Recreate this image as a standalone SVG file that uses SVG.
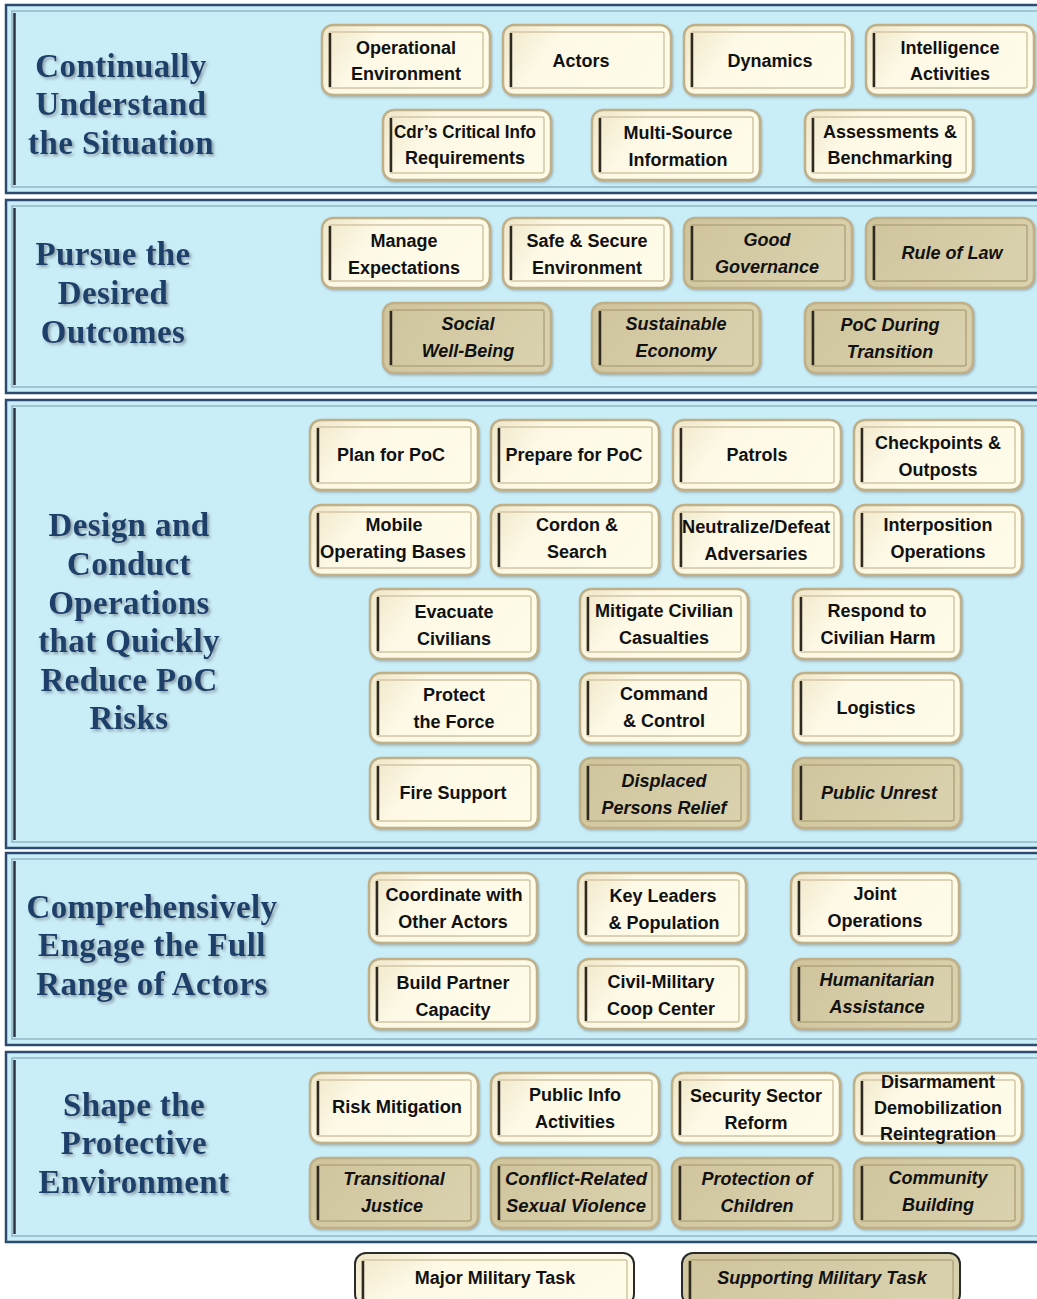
<svg xmlns="http://www.w3.org/2000/svg" width="1037" height="1299" viewBox="0 0 1037 1299">
<defs>
<linearGradient id="cream" x1="0" y1="0" x2="1" y2="0.3">
<stop offset="0" stop-color="#efe6c8"/><stop offset="0.35" stop-color="#fdf9e6"/><stop offset="1" stop-color="#fffbe9"/>
</linearGradient>
<linearGradient id="tan" x1="0" y1="0" x2="1" y2="0.3">
<stop offset="0" stop-color="#cfc49c"/><stop offset="1" stop-color="#d9d0ad"/>
</linearGradient>
<filter id="sh" x="-10%" y="-20%" width="120%" height="140%">
<feDropShadow dx="2" dy="2" stdDeviation="1.5" flood-color="#7a8a96" flood-opacity="0.8"/>
</filter>
<filter id="bs" x="-10%" y="-10%" width="120%" height="130%">
<feDropShadow dx="1" dy="1.5" stdDeviation="1" flood-color="#6f7a80" flood-opacity="0.5"/>
</filter>
</defs>
<style>
.sec{fill:#c9eef8;stroke:#2d4b70;stroke-width:2.5}
.secin{fill:none;stroke:#93b6c8;stroke-width:1.5}
.secl{stroke:#2b3340;stroke-width:2.5}
.hd{font-family:"Liberation Serif","DejaVu Serif",serif;font-weight:bold;font-size:33px;letter-spacing:0.4px;fill:#1f3f6a;text-anchor:middle;filter:url(#sh)}
.bo{stroke:#bfb088;stroke-width:2.5;filter:url(#bs)}
.lg{stroke:#2a2a2a;stroke-width:2}
.c{fill:url(#cream)}
.t{fill:url(#tan)}
.bi{fill:none;stroke:#d2c6a4;stroke-width:1.5}
.bit{fill:none;stroke:#b3a57c;stroke-width:1.5}
.bl{stroke:#2e2a22;stroke-width:2.5}
.tx{font-family:"Liberation Sans","Arial",sans-serif;font-weight:bold;font-size:18px;fill:#111;text-anchor:middle}
.it{font-style:italic}
</style>

<g id="sections">
<rect class="sec" x="6" y="5" width="1040" height="188"/><rect class="secin" x="12" y="11" width="1030" height="176"/><line class="secl" x1="14.5" y1="13" x2="14.5" y2="185"/>
<rect class="sec" x="6" y="200" width="1040" height="193"/><rect class="secin" x="12" y="206" width="1030" height="181"/><line class="secl" x1="14.5" y1="208" x2="14.5" y2="385"/>
<rect class="sec" x="6" y="400" width="1040" height="448"/><rect class="secin" x="12" y="406" width="1030" height="436"/><line class="secl" x1="14.5" y1="408" x2="14.5" y2="840"/>
<rect class="sec" x="6" y="853" width="1040" height="192"/><rect class="secin" x="12" y="859" width="1030" height="180"/><line class="secl" x1="14.5" y1="861" x2="14.5" y2="1037"/>
<rect class="sec" x="6" y="1052" width="1040" height="190"/><rect class="secin" x="12" y="1058" width="1030" height="178"/><line class="secl" x1="14.5" y1="1060" x2="14.5" y2="1234"/>
</g>

<g id="headings">
<text class="hd"><tspan x="121" y="77">Continually</tspan><tspan x="121" y="115">Understand</tspan><tspan x="121" y="154">the Situation</tspan></text>
<text class="hd"><tspan x="113" y="265">Pursue the</tspan><tspan x="113" y="304">Desired</tspan><tspan x="113" y="343">Outcomes</tspan></text>
<text class="hd"><tspan x="129" y="536">Design and</tspan><tspan x="129" y="575">Conduct</tspan><tspan x="129" y="614">Operations</tspan><tspan x="129" y="652">that Quickly</tspan><tspan x="129" y="691">Reduce PoC</tspan><tspan x="129" y="729">Risks</tspan></text>
<text class="hd"><tspan x="152" y="918">Comprehensively</tspan><tspan x="152" y="956">Engage the Full</tspan><tspan x="152" y="995">Range of Actors</tspan></text>
<text class="hd"><tspan x="134" y="1116">Shape the</tspan><tspan x="134" y="1154">Protective</tspan><tspan x="134" y="1193">Environment</tspan></text>
</g>

<g id="connectors"/>

<!-- Section 1 -->
<g id="n-openv"><rect class="bo c" x="322" y="25" width="168" height="70" rx="11"/><rect class="bi" x="329" y="32" width="154" height="56" rx="2"/><line class="bl" x1="330" y1="33" x2="330" y2="87"/><text class="tx"><tspan x="406" y="54">Operational</tspan><tspan x="406" y="80">Environment</tspan></text></g>
<g id="n-actors"><rect class="bo c" x="503" y="25" width="168" height="70" rx="11"/><rect class="bi" x="510" y="32" width="154" height="56" rx="2"/><line class="bl" x1="511" y1="33" x2="511" y2="87"/><text class="tx" x="581" y="67">Actors</text></g>
<g id="n-dynamics"><rect class="bo c" x="684" y="25" width="168" height="70" rx="11"/><rect class="bi" x="691" y="32" width="154" height="56" rx="2"/><line class="bl" x1="692" y1="33" x2="692" y2="87"/><text class="tx" x="770" y="67">Dynamics</text></g>
<g id="n-intel"><rect class="bo c" x="866" y="25" width="168" height="70" rx="11"/><rect class="bi" x="873" y="32" width="154" height="56" rx="2"/><line class="bl" x1="874" y1="33" x2="874" y2="87"/><text class="tx"><tspan x="950" y="54">Intelligence</tspan><tspan x="950" y="80">Activities</tspan></text></g>
<g id="n-ccir"><rect class="bo c" x="383" y="110" width="168" height="70" rx="11"/><rect class="bi" x="390" y="117" width="154" height="56" rx="2"/><line class="bl" x1="391" y1="118" x2="391" y2="172"/><text class="tx"><tspan x="465" y="138" textLength="142" lengthAdjust="spacingAndGlyphs">Cdr’s Critical Info</tspan><tspan x="465" y="164">Requirements</tspan></text></g>
<g id="n-msi"><rect class="bo c" x="592" y="110" width="168" height="70" rx="11"/><rect class="bi" x="599" y="117" width="154" height="56" rx="2"/><line class="bl" x1="600" y1="118" x2="600" y2="172"/><text class="tx"><tspan x="678" y="139">Multi-Source</tspan><tspan x="678" y="166">Information</tspan></text></g>
<g id="n-assess"><rect class="bo c" x="805" y="110" width="168" height="70" rx="11"/><rect class="bi" x="812" y="117" width="154" height="56" rx="2"/><line class="bl" x1="813" y1="118" x2="813" y2="172"/><text class="tx"><tspan x="890" y="138">Assessments &amp;</tspan><tspan x="890" y="164">Benchmarking</tspan></text></g>

<!-- Section 2 -->
<g id="n-manage"><rect class="bo c" x="322" y="218" width="168" height="70" rx="11"/><rect class="bi" x="329" y="225" width="154" height="56" rx="2"/><line class="bl" x1="330" y1="226" x2="330" y2="280"/><text class="tx"><tspan x="404" y="247">Manage</tspan><tspan x="404" y="274">Expectations</tspan></text></g>
<g id="n-safe"><rect class="bo c" x="503" y="218" width="168" height="70" rx="11"/><rect class="bi" x="510" y="225" width="154" height="56" rx="2"/><line class="bl" x1="511" y1="226" x2="511" y2="280"/><text class="tx"><tspan x="587" y="247">Safe &amp; Secure</tspan><tspan x="587" y="274">Environment</tspan></text></g>
<g id="n-gov"><rect class="bo t" x="684" y="218" width="168" height="70" rx="11"/><rect class="bit" x="691" y="225" width="154" height="56" rx="2"/><line class="bl" x1="692" y1="226" x2="692" y2="280"/><text class="tx it"><tspan x="767" y="246">Good</tspan><tspan x="767" y="273">Governance</tspan></text></g>
<g id="n-law"><rect class="bo t" x="866" y="218" width="168" height="70" rx="11"/><rect class="bit" x="873" y="225" width="154" height="56" rx="2"/><line class="bl" x1="874" y1="226" x2="874" y2="280"/><text class="tx it" x="952" y="259">Rule of Law</text></g>
<g id="n-social"><rect class="bo t" x="383" y="303" width="168" height="70" rx="11"/><rect class="bit" x="390" y="310" width="154" height="56" rx="2"/><line class="bl" x1="391" y1="311" x2="391" y2="365"/><text class="tx it"><tspan x="468" y="330">Social</tspan><tspan x="468" y="357">Well-Being</tspan></text></g>
<g id="n-econ"><rect class="bo t" x="592" y="303" width="168" height="70" rx="11"/><rect class="bit" x="599" y="310" width="154" height="56" rx="2"/><line class="bl" x1="600" y1="311" x2="600" y2="365"/><text class="tx it"><tspan x="676" y="330">Sustainable</tspan><tspan x="676" y="357">Economy</tspan></text></g>
<g id="n-trans"><rect class="bo t" x="805" y="303" width="168" height="70" rx="11"/><rect class="bit" x="812" y="310" width="154" height="56" rx="2"/><line class="bl" x1="813" y1="311" x2="813" y2="365"/><text class="tx it"><tspan x="890" y="331">PoC During</tspan><tspan x="890" y="358">Transition</tspan></text></g>

<!-- Section 3 -->
<g id="n-plan"><rect class="bo c" x="310" y="420" width="168" height="70" rx="11"/><rect class="bi" x="317" y="427" width="154" height="56" rx="2"/><line class="bl" x1="318" y1="428" x2="318" y2="482"/><text class="tx" x="391" y="461">Plan for PoC</text></g>
<g id="n-prepare"><rect class="bo c" x="491" y="420" width="168" height="70" rx="11"/><rect class="bi" x="498" y="427" width="154" height="56" rx="2"/><line class="bl" x1="499" y1="428" x2="499" y2="482"/><text class="tx" x="574" y="461">Prepare for PoC</text></g>
<g id="n-patrols"><rect class="bo c" x="673" y="420" width="168" height="70" rx="11"/><rect class="bi" x="680" y="427" width="154" height="56" rx="2"/><line class="bl" x1="681" y1="428" x2="681" y2="482"/><text class="tx" x="757" y="461">Patrols</text></g>
<g id="n-check"><rect class="bo c" x="854" y="420" width="168" height="70" rx="11"/><rect class="bi" x="861" y="427" width="154" height="56" rx="2"/><line class="bl" x1="862" y1="428" x2="862" y2="482"/><text class="tx"><tspan x="938" y="449">Checkpoints &amp;</tspan><tspan x="938" y="476">Outposts</tspan></text></g>
<g id="n-mobile"><rect class="bo c" x="310" y="505" width="168" height="70" rx="11"/><rect class="bi" x="317" y="512" width="154" height="56" rx="2"/><line class="bl" x1="318" y1="513" x2="318" y2="567"/><text class="tx"><tspan x="394" y="531">Mobile</tspan><tspan x="393" y="558" textLength="146" lengthAdjust="spacingAndGlyphs">Operating Bases</tspan></text></g>
<g id="n-cordon"><rect class="bo c" x="491" y="505" width="168" height="70" rx="11"/><rect class="bi" x="498" y="512" width="154" height="56" rx="2"/><line class="bl" x1="499" y1="513" x2="499" y2="567"/><text class="tx"><tspan x="577" y="531">Cordon &amp;</tspan><tspan x="577" y="558">Search</tspan></text></g>
<g id="n-neut"><rect class="bo c" x="673" y="505" width="168" height="70" rx="11"/><rect class="bi" x="680" y="512" width="154" height="56" rx="2"/><line class="bl" x1="681" y1="513" x2="681" y2="567"/><text class="tx"><tspan x="756" y="533" textLength="148" lengthAdjust="spacingAndGlyphs">Neutralize/Defeat</tspan><tspan x="756" y="560">Adversaries</tspan></text></g>
<g id="n-interp"><rect class="bo c" x="854" y="505" width="168" height="70" rx="11"/><rect class="bi" x="861" y="512" width="154" height="56" rx="2"/><line class="bl" x1="862" y1="513" x2="862" y2="567"/><text class="tx"><tspan x="938" y="531">Interposition</tspan><tspan x="938" y="558">Operations</tspan></text></g>
<g id="n-evac"><rect class="bo c" x="370" y="589" width="168" height="70" rx="11"/><rect class="bi" x="377" y="596" width="154" height="56" rx="2"/><line class="bl" x1="378" y1="597" x2="378" y2="651"/><text class="tx"><tspan x="454" y="618">Evacuate</tspan><tspan x="454" y="645">Civilians</tspan></text></g>
<g id="n-mitig"><rect class="bo c" x="580" y="589" width="168" height="70" rx="11"/><rect class="bi" x="587" y="596" width="154" height="56" rx="2"/><line class="bl" x1="588" y1="597" x2="588" y2="651"/><text class="tx"><tspan x="664" y="617" textLength="138" lengthAdjust="spacingAndGlyphs">Mitigate Civilian</tspan><tspan x="664" y="644">Casualties</tspan></text></g>
<g id="n-respond"><rect class="bo c" x="793" y="589" width="168" height="70" rx="11"/><rect class="bi" x="800" y="596" width="154" height="56" rx="2"/><line class="bl" x1="801" y1="597" x2="801" y2="651"/><text class="tx"><tspan x="877" y="617">Respond to</tspan><tspan x="878" y="644">Civilian Harm</tspan></text></g>
<g id="n-protect"><rect class="bo c" x="370" y="673" width="168" height="70" rx="11"/><rect class="bi" x="377" y="680" width="154" height="56" rx="2"/><line class="bl" x1="378" y1="681" x2="378" y2="735"/><text class="tx"><tspan x="454" y="701">Protect</tspan><tspan x="454" y="728">the Force</tspan></text></g>
<g id="n-c2"><rect class="bo c" x="580" y="673" width="168" height="70" rx="11"/><rect class="bi" x="587" y="680" width="154" height="56" rx="2"/><line class="bl" x1="588" y1="681" x2="588" y2="735"/><text class="tx"><tspan x="664" y="700">Command</tspan><tspan x="664" y="727">&amp; Control</tspan></text></g>
<g id="n-log"><rect class="bo c" x="793" y="673" width="168" height="70" rx="11"/><rect class="bi" x="800" y="680" width="154" height="56" rx="2"/><line class="bl" x1="801" y1="681" x2="801" y2="735"/><text class="tx" x="876" y="714">Logistics</text></g>
<g id="n-fire"><rect class="bo c" x="370" y="758" width="168" height="70" rx="11"/><rect class="bi" x="377" y="765" width="154" height="56" rx="2"/><line class="bl" x1="378" y1="766" x2="378" y2="820"/><text class="tx" x="453" y="799">Fire Support</text></g>
<g id="n-displ"><rect class="bo t" x="580" y="758" width="168" height="70" rx="11"/><rect class="bit" x="587" y="765" width="154" height="56" rx="2"/><line class="bl" x1="588" y1="766" x2="588" y2="820"/><text class="tx it"><tspan x="664" y="787">Displaced</tspan><tspan x="664" y="814">Persons Relief</tspan></text></g>
<g id="n-unrest"><rect class="bo t" x="793" y="758" width="168" height="70" rx="11"/><rect class="bit" x="800" y="765" width="154" height="56" rx="2"/><line class="bl" x1="801" y1="766" x2="801" y2="820"/><text class="tx it" x="879" y="799">Public Unrest</text></g>

<!-- Section 4 -->
<g id="n-coord"><rect class="bo c" x="369" y="873" width="168" height="70" rx="11"/><rect class="bi" x="376" y="880" width="154" height="56" rx="2"/><line class="bl" x1="377" y1="881" x2="377" y2="935"/><text class="tx"><tspan x="454" y="901" textLength="137" lengthAdjust="spacingAndGlyphs">Coordinate with</tspan><tspan x="453" y="928">Other Actors</tspan></text></g>
<g id="n-key"><rect class="bo c" x="578" y="873" width="168" height="70" rx="11"/><rect class="bi" x="585" y="880" width="154" height="56" rx="2"/><line class="bl" x1="586" y1="881" x2="586" y2="935"/><text class="tx"><tspan x="663" y="902">Key Leaders</tspan><tspan x="664" y="929">&amp; Population</tspan></text></g>
<g id="n-joint"><rect class="bo c" x="791" y="873" width="168" height="70" rx="11"/><rect class="bi" x="798" y="880" width="154" height="56" rx="2"/><line class="bl" x1="799" y1="881" x2="799" y2="935"/><text class="tx"><tspan x="875" y="900">Joint</tspan><tspan x="875" y="927">Operations</tspan></text></g>
<g id="n-build"><rect class="bo c" x="369" y="959" width="168" height="70" rx="11"/><rect class="bi" x="376" y="966" width="154" height="56" rx="2"/><line class="bl" x1="377" y1="967" x2="377" y2="1021"/><text class="tx"><tspan x="453" y="989">Build Partner</tspan><tspan x="453" y="1016">Capacity</tspan></text></g>
<g id="n-cmcc"><rect class="bo c" x="578" y="959" width="168" height="70" rx="11"/><rect class="bi" x="585" y="966" width="154" height="56" rx="2"/><line class="bl" x1="586" y1="967" x2="586" y2="1021"/><text class="tx"><tspan x="661" y="988">Civil-Military</tspan><tspan x="661" y="1015">Coop Center</tspan></text></g>
<g id="n-human"><rect class="bo t" x="791" y="959" width="168" height="70" rx="11"/><rect class="bit" x="798" y="966" width="154" height="56" rx="2"/><line class="bl" x1="799" y1="967" x2="799" y2="1021"/><text class="tx it"><tspan x="877" y="986">Humanitarian</tspan><tspan x="877" y="1013">Assistance</tspan></text></g>

<!-- Section 5 -->
<g id="n-risk"><rect class="bo c" x="310" y="1073" width="168" height="70" rx="11"/><rect class="bi" x="317" y="1080" width="154" height="56" rx="2"/><line class="bl" x1="318" y1="1081" x2="318" y2="1135"/><text class="tx" x="397" y="1113" textLength="130" lengthAdjust="spacingAndGlyphs">Risk Mitigation</text></g>
<g id="n-pia"><rect class="bo c" x="491" y="1073" width="168" height="70" rx="11"/><rect class="bi" x="498" y="1080" width="154" height="56" rx="2"/><line class="bl" x1="499" y1="1081" x2="499" y2="1135"/><text class="tx"><tspan x="575" y="1101">Public Info</tspan><tspan x="575" y="1128">Activities</tspan></text></g>
<g id="n-ssr"><rect class="bo c" x="672" y="1073" width="168" height="70" rx="11"/><rect class="bi" x="679" y="1080" width="154" height="56" rx="2"/><line class="bl" x1="680" y1="1081" x2="680" y2="1135"/><text class="tx"><tspan x="756" y="1102">Security Sector</tspan><tspan x="756" y="1129">Reform</tspan></text></g>
<g id="n-ddr"><rect class="bo c" x="854" y="1073" width="168" height="70" rx="11"/><rect class="bi" x="861" y="1080" width="154" height="56" rx="2"/><line class="bl" x1="862" y1="1081" x2="862" y2="1135"/><text class="tx"><tspan x="938" y="1088">Disarmament</tspan><tspan x="938" y="1114">Demobilization</tspan><tspan x="938" y="1140">Reintegration</tspan></text></g>
<g id="n-tj"><rect class="bo t" x="310" y="1158" width="168" height="70" rx="11"/><rect class="bit" x="317" y="1165" width="154" height="56" rx="2"/><line class="bl" x1="318" y1="1166" x2="318" y2="1220"/><text class="tx it"><tspan x="394" y="1185">Transitional</tspan><tspan x="392" y="1212">Justice</tspan></text></g>
<g id="n-crsv"><rect class="bo t" x="491" y="1158" width="168" height="70" rx="11"/><rect class="bit" x="498" y="1165" width="154" height="56" rx="2"/><line class="bl" x1="499" y1="1166" x2="499" y2="1220"/><text class="tx it"><tspan x="576" y="1185" textLength="142" lengthAdjust="spacingAndGlyphs">Conflict-Related</tspan><tspan x="576" y="1212" textLength="140" lengthAdjust="spacingAndGlyphs">Sexual Violence</tspan></text></g>
<g id="n-poc"><rect class="bo t" x="672" y="1158" width="168" height="70" rx="11"/><rect class="bit" x="679" y="1165" width="154" height="56" rx="2"/><line class="bl" x1="680" y1="1166" x2="680" y2="1220"/><text class="tx it"><tspan x="757" y="1185">Protection of</tspan><tspan x="757" y="1212">Children</tspan></text></g>
<g id="n-comm"><rect class="bo t" x="854" y="1158" width="168" height="70" rx="11"/><rect class="bit" x="861" y="1165" width="154" height="56" rx="2"/><line class="bl" x1="862" y1="1166" x2="862" y2="1220"/><text class="tx it"><tspan x="938" y="1184">Community</tspan><tspan x="938" y="1211">Building</tspan></text></g>

<!-- Legend -->
<g id="legend-major"><rect class="lg c" x="355" y="1253" width="279" height="52" rx="11"/><rect class="bi" x="362" y="1260" width="265" height="40" rx="2"/><line class="bl" x1="363" y1="1261" x2="363" y2="1299"/><text class="tx" x="495" y="1284">Major Military Task</text></g>
<g id="legend-support"><rect class="lg t" x="682" y="1253" width="278" height="52" rx="11"/><rect class="bit" x="689" y="1260" width="264" height="40" rx="2"/><line class="bl" x1="690" y1="1261" x2="690" y2="1299"/><text class="tx it" x="822" y="1284">Supporting Military Task</text></g>
</svg>
